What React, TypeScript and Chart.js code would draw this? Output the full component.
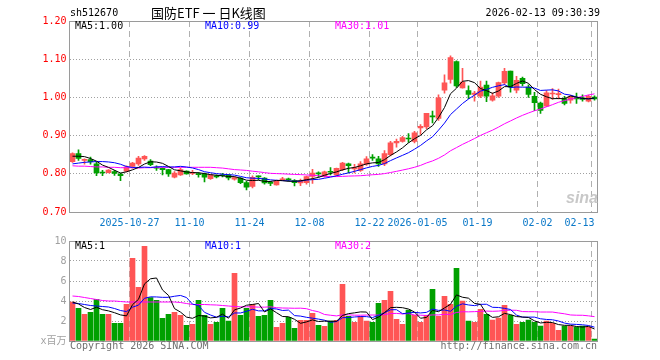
import React, { useEffect, useRef } from 'react';
import { Chart, registerables } from 'chart.js';

Chart.register(...registerables);

// ---------- data ----------
const dates = [
  '2025-10-13', '2025-10-14', '2025-10-15', '2025-10-16', '2025-10-17',
  '2025-10-20', '2025-10-21', '2025-10-22', '2025-10-23', '2025-10-24',
  '2025-10-27', '2025-10-28', '2025-10-29', '2025-10-30', '2025-10-31',
  '2025-11-03', '2025-11-04', '2025-11-05', '2025-11-06', '2025-11-07',
  '2025-11-10', '2025-11-11', '2025-11-12', '2025-11-13', '2025-11-14',
  '2025-11-17', '2025-11-18', '2025-11-19', '2025-11-20', '2025-11-21',
  '2025-11-24', '2025-11-25', '2025-11-26', '2025-11-27', '2025-11-28',
  '2025-12-01', '2025-12-02', '2025-12-03', '2025-12-04', '2025-12-05',
  '2025-12-08', '2025-12-09', '2025-12-10', '2025-12-11', '2025-12-12',
  '2025-12-15', '2025-12-16', '2025-12-17', '2025-12-18', '2025-12-19',
  '2025-12-22', '2025-12-23', '2025-12-24', '2025-12-25', '2025-12-26',
  '2025-12-29', '2025-12-30', '2025-12-31',
  '2026-01-05', '2026-01-06', '2026-01-07', '2026-01-08', '2026-01-09',
  '2026-01-12', '2026-01-13', '2026-01-14', '2026-01-15', '2026-01-16',
  '2026-01-19', '2026-01-20', '2026-01-21', '2026-01-22', '2026-01-23',
  '2026-01-26', '2026-01-27', '2026-01-28', '2026-01-29', '2026-01-30',
  '2026-02-02', '2026-02-03', '2026-02-04', '2026-02-05', '2026-02-06',
  '2026-02-09', '2026-02-10', '2026-02-11', '2026-02-12', '2026-02-13',
];

const opens = [
  0.832, 0.853, 0.835, 0.837, 0.826, 0.804, 0.803, 0.806, 0.799, 0.807,
  0.819, 0.826, 0.839, 0.833, 0.817, 0.814, 0.811, 0.791, 0.797, 0.807,
  0.801, 0.800, 0.800, 0.787, 0.794, 0.796, 0.797, 0.786, 0.789, 0.777,
  0.767, 0.794, 0.789, 0.777, 0.771, 0.783, 0.786, 0.782, 0.776, 0.777,
  0.793, 0.802, 0.793, 0.806, 0.797, 0.811, 0.826, 0.813, 0.809, 0.825,
  0.843, 0.839, 0.826, 0.850, 0.881, 0.885, 0.893, 0.885, 0.920, 0.923,
  0.951, 0.945, 1.019, 1.047, 1.094, 1.025, 1.018, 1.008, 1.003, 1.032,
  0.993, 1.003, 1.038, 1.069, 1.019, 1.050, 1.027, 1.003, 0.985, 0.977,
  1.009, 1.007, 0.997, 0.993, 0.998, 0.999, 0.990, 1.001,
];
const highs = [
  0.855, 0.863, 0.839, 0.844, 0.830, 0.809, 0.811, 0.809, 0.802, 0.821,
  0.830, 0.846, 0.848, 0.837, 0.821, 0.816, 0.812, 0.806, 0.815, 0.808,
  0.809, 0.803, 0.802, 0.797, 0.797, 0.801, 0.798, 0.792, 0.790, 0.780,
  0.795, 0.795, 0.790, 0.780, 0.782, 0.791, 0.789, 0.785, 0.786, 0.794,
  0.812, 0.805, 0.807, 0.816, 0.815, 0.830, 0.828, 0.825, 0.832, 0.845,
  0.850, 0.846, 0.861, 0.885, 0.891, 0.898, 0.905, 0.911, 0.929, 0.958,
  0.964, 1.007, 1.059, 1.109, 1.096, 1.076, 1.030, 1.016, 1.043, 1.043,
  1.012, 1.040, 1.076, 1.069, 1.055, 1.053, 1.033, 1.013, 0.988, 1.018,
  1.023, 1.022, 1.003, 1.005, 1.011, 1.007, 1.006, 1.004,
];
const lows = [
  0.830, 0.835, 0.825, 0.825, 0.795, 0.795, 0.802, 0.796, 0.782, 0.805,
  0.815, 0.822, 0.835, 0.821, 0.809, 0.797, 0.793, 0.789, 0.796, 0.799,
  0.798, 0.791, 0.779, 0.785, 0.789, 0.792, 0.784, 0.783, 0.774, 0.758,
  0.763, 0.784, 0.773, 0.769, 0.770, 0.782, 0.781, 0.768, 0.769, 0.773,
  0.775, 0.791, 0.791, 0.797, 0.795, 0.808, 0.802, 0.802, 0.806, 0.822,
  0.835, 0.819, 0.821, 0.847, 0.870, 0.883, 0.882, 0.881, 0.903, 0.918,
  0.933, 0.940, 1.011, 1.037, 1.026, 1.024, 0.997, 0.990, 0.999, 0.989,
  0.990, 1.000, 1.033, 1.014, 1.012, 1.030, 1.000, 0.965, 0.958, 0.976,
  0.995, 0.996, 0.980, 0.985, 0.984, 0.990, 0.988, 0.993,
];
const closes = [
  0.853, 0.840, 0.838, 0.832, 0.802, 0.802, 0.810, 0.801, 0.795, 0.818,
  0.828, 0.841, 0.846, 0.824, 0.815, 0.811, 0.800, 0.802, 0.811, 0.800,
  0.803, 0.798, 0.791, 0.797, 0.792, 0.795, 0.789, 0.790, 0.777, 0.765,
  0.791, 0.792, 0.776, 0.775, 0.780, 0.787, 0.784, 0.777, 0.781, 0.793,
  0.802, 0.800, 0.805, 0.804, 0.814, 0.828, 0.821, 0.816, 0.826, 0.839,
  0.841, 0.826, 0.853, 0.881, 0.885, 0.895, 0.891, 0.907, 0.924, 0.958,
  0.949, 0.999, 1.038, 1.104, 1.030, 1.040, 1.008, 1.011, 1.027, 1.003,
  1.004, 1.039, 1.068, 1.027, 1.045, 1.036, 1.008, 0.986, 0.966, 1.012,
  1.011, 1.010, 0.984, 1.002, 0.996, 0.995, 1.003, 0.996,
];
// volume, millions of shares
const volumes = [
  3.9, 3.27, 2.67, 2.87, 4.17, 2.67, 2.67, 1.77, 1.77, 3.67,
  8.27, 5.37, 9.47, 4.33, 4.07, 2.27, 2.67, 2.87, 2.57, 1.57,
  1.67, 4.07, 2.57, 1.67, 1.87, 3.27, 2.0, 6.77, 2.57, 3.27,
  3.67, 2.47, 2.57, 4.07, 1.37, 1.77, 2.37, 1.27, 2.07, 2.07,
  2.77, 1.57, 1.47, 2.0, 2.07, 5.67, 2.47, 1.87, 2.47, 2.0,
  1.87, 3.77, 4.07, 4.97, 2.17, 1.67, 3.1, 2.57, 1.87, 2.57,
  5.17, 2.47, 4.47, 3.67, 7.27, 4.0, 2.0, 1.87, 3.17, 2.67,
  2.1, 2.3, 3.57, 2.57, 1.67, 1.87, 2.1, 1.87, 1.5, 2.0,
  1.77, 1.07, 1.5, 1.5, 1.4, 1.5, 1.4, 0.2,
];

// moving-average values at the left edge (their windows start before the visible range)
const ma5Head = [0.846, 0.846, 0.845, 0.840];
const ma10Head = [0.826, 0.828, 0.830, 0.831, 0.832, 0.832, 0.831, 0.829, 0.825];
const ma30Head = [
  0.821, 0.820, 0.820, 0.819, 0.818, 0.818, 0.817, 0.817, 0.816, 0.816,
  0.816, 0.815, 0.816, 0.816, 0.817, 0.817, 0.817, 0.817, 0.817, 0.817,
  0.817, 0.817, 0.817, 0.817, 0.816, 0.815, 0.813, 0.811, 0.810,
];
const volMa5Head = [3.9, 3.7, 3.35, 3.15];
const volMa10Head = [3.8, 3.75, 3.65, 3.55, 3.5, 3.45, 3.4, 3.25, 3.05];
const volMa30Head = [
  4.5, 4.45, 4.35, 4.25, 4.15, 4.05, 4.0, 4.0, 3.95, 3.9,
  3.9, 3.9, 3.9, 3.9, 3.9, 3.9, 3.9, 3.9, 3.85, 3.75,
  3.65, 3.65, 3.65, 3.62, 3.6, 3.55, 3.5, 3.45, 3.42,
];

const xTickLabels: Record<string, string> = {
  '2025-10-27': '2025-10-27',
  '2025-11-10': '11-10',
  '2025-11-24': '11-24',
  '2025-12-08': '12-08',
  '2025-12-22': '12-22',
  '2026-01-05': '2026-01-05',
  '2026-01-19': '01-19',
  '2026-02-02': '02-02',
  '2026-02-13': '02-13',
};
const priceMin = 0.7;
const priceMax = 1.2;
const priceStep = 0.1;
const volMin = 0;
const volMax = 10;
const volStep = 2;

const code = 'sh512670';
const title = '国防ETF 一 日K线图';
const stamp = '2026-02-13 09:30:39';
const priceLegend = ['MA5:1.00', 'MA10:0.99', 'MA30:1.01'];
const volLegend = ['MA5:1', 'MA10:1', 'MA30:2'];

// ---------- helpers ----------
const RED = '#ff5555';
const GREEN = '#00a000';
const GRID_H = '#a0a0a0';
const GRID_V = '#b0b0b0';
const FRAME = '#9a9a9a';
const MONO = "'DejaVu Sans Mono', 'Noto Sans CJK SC', monospace";

function movingAvg(src: number[], n: number, head: number[]) {
  return src.map((_, i) =>
    i < n - 1 ? head[i] : src.slice(i - n + 1, i + 1).reduce((a, b) => a + b, 0) / n
  );
}

const tickIndex = new Set(dates.map((d, i) => (xTickLabels[d] ? i : -1)).filter((i) => i >= 0));

const frame = {
  id: 'frame',
  afterDraw(chart: any) {
    const { ctx, chartArea } = chart;
    const { left, top, right, bottom } = chartArea;
    ctx.save();
    ctx.strokeStyle = FRAME;
    ctx.lineWidth = 1;
    ctx.strokeRect(left, top + 0.5, right - left, bottom - top);
    ctx.restore();
  },
};

const LEFT_W = 69.5;
const RIGHT_PAD = 660 - 597.5;

function xScale(showLabels: boolean, height: number) {
  return {
    type: 'category',
    offset: true,
    grid: {
      offset: true,
      drawTicks: false,
      lineWidth: 1,
      color: (ctx: any) =>
        ctx.type === 'tick' && tickIndex.has(ctx.index) ? GRID_V : 'rgba(0,0,0,0)',
    },
    border: { display: false, dash: [6, 4] },
    ticks: {
      display: showLabels,
      autoSkip: false,
      maxRotation: 0,
      minRotation: 0,
      padding: 5,
      labelOffset: -3,
      color: '#0a78c8',
      font: { family: MONO, size: 10 },
      callback: (_v: any, i: number) => {
        const l = xTickLabels[dates[i]];
        if (!l) return '';
        return i === dates.length - 1 ? l + '    ' : l;
      },
    },
    afterFit: (s: any) => {
      s.height = height;
    },
  };
}

function lineDs(data: number[], color: string) {
  return {
    type: 'line',
    data,
    borderColor: color,
    borderWidth: 1,
    pointRadius: 0,
    tension: 0,
    fill: false,
    order: 0,
  };
}

export default function App() {
  const mainRef = useRef<HTMLCanvasElement>(null);
  const volRef = useRef<HTMLCanvasElement>(null);

  useEffect(() => {
    const colors = closes.map((c, i) => (c >= opens[i] ? RED : GREEN));
    const bodies = closes.map((c, i) => [Math.min(c, opens[i]), Math.max(c, opens[i])]);
    const wicks = highs.map((h, i) => [lows[i], h]);
    const ma5 = movingAvg(closes, 5, ma5Head);
    const ma10 = movingAvg(closes, 10, ma10Head);
    const ma30 = movingAvg(closes, 30, ma30Head);
    const vma5 = movingAvg(volumes, 5, volMa5Head);
    const vma10 = movingAvg(volumes, 10, volMa10Head);
    const vma30 = movingAvg(volumes, 30, volMa30Head);

    const main = new Chart(mainRef.current as HTMLCanvasElement, {
      type: 'bar',
      data: {
        labels: dates,
        datasets: [
          lineDs(ma5, '#000000'),
          lineDs(ma10, '#0000ff'),
          lineDs(ma30, '#ff00ff'),
          {
            type: 'bar',
            data: bodies,
            backgroundColor: colors,
            borderWidth: 0,
            barThickness: 5,
            grouped: false,
            minBarLength: 1,
            order: 1,
          },
          {
            type: 'bar',
            data: wicks,
            backgroundColor: colors,
            borderWidth: 0,
            barThickness: 1,
            grouped: false,
            order: 2,
          },
        ],
      } as any,
      options: {
        responsive: false,
        animation: false,
        devicePixelRatio: 1,
        events: [],
        layout: { padding: { left: 0, right: RIGHT_PAD, top: 21, bottom: 0 } },
        plugins: { legend: { display: false }, tooltip: { enabled: false } },
        scales: {
          x: xScale(true, 24),
          y: {
            min: priceMin,
            max: priceMax,
            afterFit: (s: any) => {
              s.width = LEFT_W;
            },
            grid: {
              drawTicks: false,
              color: (ctx: any) => {
                const v = ctx.tick ? ctx.tick.value : null;
                if (v == null || Math.abs(v - priceMin) < 1e-6 || Math.abs(v - priceMax) < 1e-6)
                  return 'rgba(0,0,0,0)';
                return GRID_H;
              },
            },
            border: { display: false, dash: [1, 2] },
            ticks: {
              stepSize: priceStep,
              padding: 3,
              color: '#ff0000',
              font: { family: MONO, size: 10 },
              callback: (v: any) => Number(v).toFixed(2),
            },
          },
        },
      } as any,
      plugins: [frame],
    });

    const vol = new Chart(volRef.current as HTMLCanvasElement, {
      type: 'bar',
      data: {
        labels: dates,
        datasets: [
          lineDs(vma5, '#000000'),
          lineDs(vma10, '#0000ff'),
          lineDs(vma30, '#ff00ff'),
          {
            type: 'bar',
            data: volumes,
            backgroundColor: colors,
            borderWidth: 0,
            barThickness: 5,
            order: 1,
          },
        ],
      } as any,
      options: {
        responsive: false,
        animation: false,
        devicePixelRatio: 1,
        events: [],
        layout: { padding: { left: 0, right: RIGHT_PAD, top: 11, bottom: 0 } },
        plugins: { legend: { display: false }, tooltip: { enabled: false } },
        scales: {
          x: xScale(false, 19),
          y: {
            min: volMin,
            max: volMax,
            afterFit: (s: any) => {
              s.width = LEFT_W;
            },
            grid: {
              drawTicks: false,
              color: (ctx: any) => {
                const v = ctx.tick ? ctx.tick.value : null;
                if (v == null || v === volMin || v === volMax) return 'rgba(0,0,0,0)';
                return GRID_H;
              },
            },
            border: { display: false, dash: [1, 2] },
            ticks: {
              stepSize: volStep,
              padding: 3,
              color: '#a0a0a0',
              font: { family: MONO, size: 10 },
              callback: (v: any) => (Number(v) === 0 ? 'x百万' : String(v)),
            },
          },
        },
      } as any,
      plugins: [frame],
    });

    return () => {
      main.destroy();
      vol.destroy();
    };
  }, []);

  const txt = (
    s: string,
    left: number | null,
    top: number,
    color: string,
    extra: React.CSSProperties = {}
  ): React.CSSProperties => ({
    position: 'absolute',
    top,
    ...(left != null ? { left } : {}),
    color,
    fontFamily: MONO,
    fontSize: 10,
    lineHeight: '10px',
    whiteSpace: 'pre',
    ...extra,
  });

  return (
    <div
      style={{
        position: 'fixed',
        left: 0,
        top: 0,
        width: 660,
        height: 360,
        background: '#ffffff',
        overflow: 'hidden',
      }}
    >
      <canvas
        ref={mainRef}
        width={660}
        height={236}
        style={{ position: 'absolute', left: 0, top: 0, width: 660, height: 236 }}
      />
      <canvas
        ref={volRef}
        width={660}
        height={130}
        style={{ position: 'absolute', left: 0, top: 230, width: 660, height: 130 }}
      />
      <div style={txt(code, 70, 8, '#000')}>{code}</div>
      <div
        style={txt(title, 151, 6, '#000', {
          fontFamily: "'Noto Sans CJK SC', sans-serif",
          fontSize: 13,
          lineHeight: '13px',
        })}
      >
        {title}
      </div>
      <div style={txt(stamp, null, 8, '#000', { right: 60 })}>{stamp}</div>
      <div style={txt(priceLegend[0], 75, 21, '#000')}>{priceLegend[0]}</div>
      <div style={txt(priceLegend[1], 205, 21, '#0000ff')}>{priceLegend[1]}</div>
      <div style={txt(priceLegend[2], 335, 21, '#ff00ff')}>{priceLegend[2]}</div>
      <div
        style={{
          position: 'absolute',
          left: 566,
          top: 190,
          color: '#c8c8c8',
          fontFamily: "'Liberation Sans', sans-serif",
          fontSize: 16,
          lineHeight: '16px',
          fontWeight: 'bold',
          fontStyle: 'italic',
        }}
      >
        sina
      </div>
      <div style={txt(volLegend[0], 75, 241, '#000')}>{volLegend[0]}</div>
      <div style={txt(volLegend[1], 205, 241, '#0000ff')}>{volLegend[1]}</div>
      <div style={txt(volLegend[2], 335, 241, '#ff00ff')}>{volLegend[2]}</div>
      <div style={txt('Copyright 2026 SINA.COM', 70, 341, '#707070')}>Copyright 2026 SINA.COM</div>
      <div style={txt('http://finance.sina.com.cn', null, 341, '#707070', { right: 63 })}>
        http://finance.sina.com.cn
      </div>
    </div>
  );
}
